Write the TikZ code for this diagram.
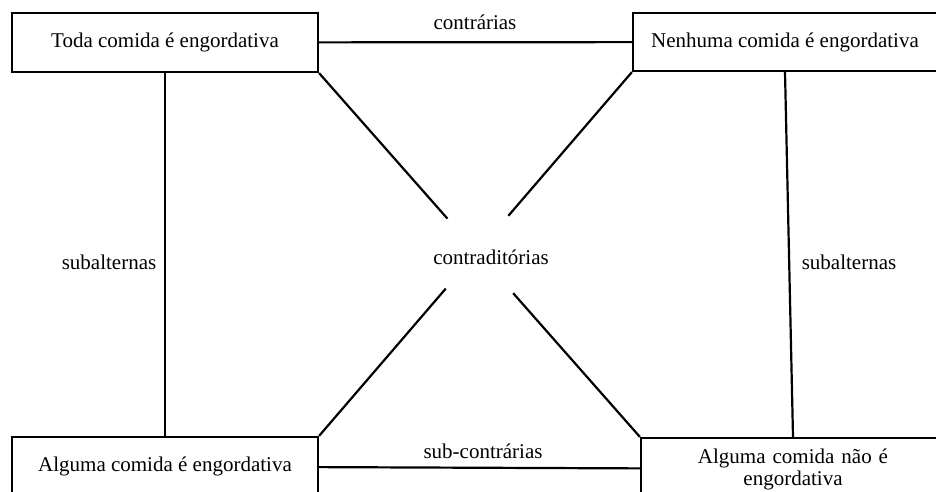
\documentclass[tikz,border=0pt]{standalone}
\usepackage{fontspec}
\setmainfont{Liberation Serif}
\usetikzlibrary{calc}
\begin{document}
\begin{tikzpicture}[x=1pt,y=-1pt,
  font=\fontsize{21}{22}\selectfont,
  line width=2.2pt,
  prop/.style={draw=black, line width=2.2pt, fill=white, inner sep=0pt, align=center},
  rel/.style={text=black, inner sep=2pt}]
  \useasboundingbox (0,0) rectangle (936,492);
  \clip (0,0) rectangle (936,492);

  % the four propositions of the square of opposition
  \node[prop, minimum width=306pt, minimum height=59pt] (tl) at (165,42.5) {Toda comida é engordativa};
  \node[prop, minimum width=304pt, minimum height=58pt] (tr) at (785,42) {Nenhuma comida é engordativa};
  \node[prop, minimum width=306pt, minimum height=59pt] (bl) at (165,466.5) {Alguma comida é engordativa};
  \node[prop, minimum width=304pt, minimum height=62pt, text width=300pt] (br) at (793,469) {Alguma comida não é\\engordativa};

  % relations
  \draw (tl) -- (tr);
  \draw (bl) -- (br);
  \draw (tl.south) -- (bl.north);
  \draw (tr.south) -- (br.north);

  % the diagonals, interrupted around their label
  \coordinate (a1) at ($(tl.south east)!0.40!(br.north west)$);
  \coordinate (a2) at ($(tl.south east)!0.605!(br.north west)$);
  \coordinate (b1) at ($(tr.south west)!0.395!(bl.north east)$);
  \coordinate (b2) at ($(tr.south west)!0.595!(bl.north east)$);
  \draw (tl.south east) -- (a1);
  \draw (a2) -- (br.north west);
  \draw (tr.south west) -- (b1);
  \draw (b2) -- (bl.north east);

  % labels
  \node[rel] (lc) at (475,22) {contrárias};
  \node[rel] (ls) at (483,451) {sub-contrárias};
  \node[rel] (lx) at (491,257) {contraditórias};
  \node[rel] (la) at (109,262) {subalternas};
  \node[rel] (lb) at (849,262) {subalternas};
\end{tikzpicture}
\end{document}
